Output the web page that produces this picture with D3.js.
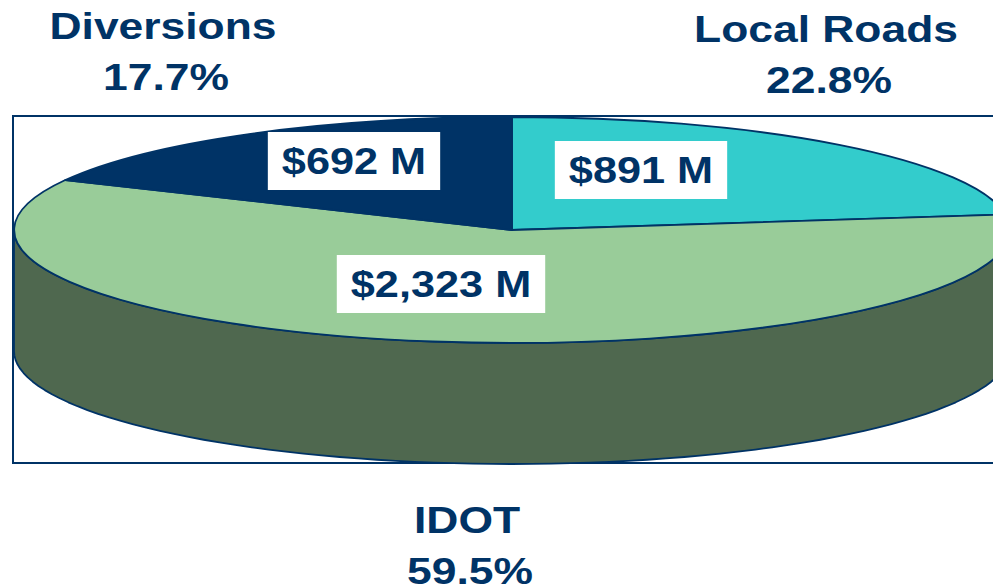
<!DOCTYPE html>
<html>
<head>
<meta charset="utf-8">
<script src="https://cdn.jsdelivr.net/npm/d3@7"></script>
<style>
  html, body { margin: 0; padding: 0; background: #fff; }
  svg { display: block; }
</style>
</head>
<body>
<div id="chart"></div>
<script>
// Data (in pie order, clockwise from 12 o'clock)
var categories = ["Local Roads", "IDOT", "Diversions"];
var amounts = [891, 2323, 692];          // $ millions
var shares = ["22.8%", "59.5%", "17.7%"];

var attrs = {
  svgWidth: 993,
  svgHeight: 586,
  cx: 512,
  cy: 230,
  rx: 498,
  ry: 113,
  depth: 121,
  navy: '#003366',
  topColors: ['#33CCCC', '#99CC99', '#003366'],
  sideColors: ['#1F8080', '#4F684F', '#002040'],
  font: '"Liberation Sans", Arial, Helvetica, sans-serif',
  fontSize: 37,
  stretch: 1.17,
  titleStretch: 1.2
};

// where each category's title and value box sit
var layout = {
  "Local Roads": { title: [826, 42], value: [641, 183] },
  "IDOT":        { title: [467, 533], value: [441, 297] },
  "Diversions":  { title: [163, 39], value: [354, 174] }
};

var svg = d3.select('#chart').append('svg')
  .attr('width', attrs.svgWidth)
  .attr('height', attrs.svgHeight)
  .attr('font-family', attrs.font);

// frame
svg.append('rect')
  .attr('x', 13).attr('y', 116)
  .attr('width', 1000).attr('height', 347)
  .attr('fill', 'none')
  .attr('stroke', attrs.navy)
  .attr('stroke-width', 2);

var pie = d3.pie().sort(null).value(function (d) { return d.value; });
var slices = pie(categories.map(function (c, i) {
  return { name: c, value: amounts[i], share: shares[i], idx: i };
}));

function pt(a, dy) {
  return [attrs.cx + attrs.rx * Math.sin(a), attrs.cy - attrs.ry * Math.cos(a) + (dy || 0)];
}

// side walls for the front half only
var line = d3.line();
var chart = svg.append('g').attr('class', 'pie');

slices.forEach(function (s) {
  var a0 = Math.max(s.startAngle, Math.PI / 2);
  var a1 = Math.min(s.endAngle, Math.PI * 1.5);
  if (a1 <= a0) return;
  var n = 80, top = [], bottom = [];
  for (var k = 0; k <= n; k++) {
    var a = a0 + (a1 - a0) * k / n;
    top.push(pt(a));
    bottom.push(pt(a, attrs.depth));
  }
  var pts = top.concat(bottom.reverse());
  chart.append('path')
    .attr('d', line(pts) + 'Z')
    .attr('fill', attrs.sideColors[s.data.idx])
    .attr('stroke', attrs.navy)
    .attr('stroke-width', 1.8)
    .attr('stroke-linejoin', 'round');
});

// top face
var arc = d3.arc().innerRadius(0).outerRadius(1);
chart.selectAll('path.top')
  .data(slices)
  .enter().append('path')
  .attr('class', 'top')
  .attr('d', arc)
  .attr('transform', 'translate(' + attrs.cx + ',' + attrs.cy + ') scale(' + attrs.rx + ',' + attrs.ry + ')')
  .attr('fill', function (d) { return attrs.topColors[d.data.idx]; })
  .attr('stroke', attrs.navy)
  .attr('stroke-width', 1.8)
  .attr('stroke-linejoin', 'round')
  .attr('vector-effect', 'non-scaling-stroke');

function stretchedText(g, txt, x, y, sx) {
  return g.append('text')
    .attr('transform', 'translate(' + x + ',' + y + ') scale(' + sx + ',1)')
    .attr('text-anchor', 'middle')
    .attr('font-size', attrs.fontSize)
    .attr('font-weight', 'bold')
    .attr('fill', attrs.navy)
    .text(txt);
}

// value boxes
slices.forEach(function (s) {
  var p = layout[s.data.name].value;
  var g = svg.append('g');
  var box = g.append('rect').attr('fill', '#fff');
  var t = stretchedText(g, '$' + d3.format(',')(s.data.value) + ' M', p[0], p[1], attrs.stretch);
  var w = t.node().getBBox().width * attrs.stretch;
  var padX = 14;
  box.attr('x', p[0] - w / 2 - padX)
    .attr('y', p[1] - 42)
    .attr('width', w + padX * 2)
    .attr('height', 58);
});

// category titles
slices.forEach(function (s) {
  var p = layout[s.data.name].title;
  stretchedText(svg, s.data.name, p[0], p[1], attrs.titleStretch);
  stretchedText(svg, s.data.share, p[0] + 3, p[1] + 51, attrs.titleStretch);
});
</script>
</body>
</html>
